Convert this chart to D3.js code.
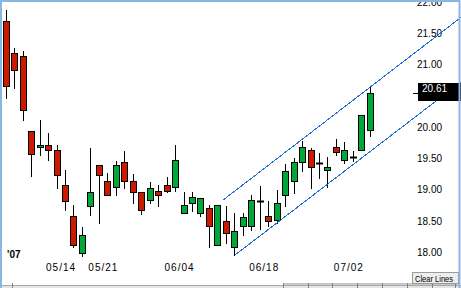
<!DOCTYPE html>
<html>
<head>
<meta charset="utf-8">
<script src="https://cdn.jsdelivr.net/npm/d3@7"></script>
<style>
  body { margin: 0; background: #fff; }
  svg { display: block; }
  text { font-family: "Liberation Sans", Arial, sans-serif; }
</style>
</head>
<body>
<div id="chart"></div>
<script>
// chart data
let dates = ["05/04","05/07","05/08","05/09","05/10","05/11","05/14","05/15","05/16","05/17","05/18",
  "05/21","05/22","05/23","05/24","05/25","05/29","05/30","05/31","06/01","06/04","06/05","06/06",
  "06/07","06/08","06/11","06/12","06/13","06/14","06/15","06/18","06/19","06/20","06/21","06/22",
  "06/25","06/26","06/27","06/28","06/29","07/02","07/03","07/05","07/06"];

let opens = [21.76,21.25,21.20,20.00,19.75,19.79,19.71,19.15,18.64,18.05,18.80,19.47,19.20,19.11,19.51,
  19.20,19.03,18.91,19.04,19.15,19.11,18.70,18.85,18.70,18.77,18.19,18.56,18.15,18.48,18.49,18.88,
  18.64,18.59,18.99,19.20,19.51,19.70,19.50,19.39,19.75,19.55,19.59,19.71,20.02];
let highs = [21.94,21.34,21.29,20.00,20.18,19.97,19.78,19.38,18.83,18.47,19.73,19.47,19.34,19.52,19.69,
  19.32,19.03,19.19,19.14,19.27,19.78,19.03,19.03,18.93,18.83,18.83,18.80,18.69,18.69,18.99,19.12,
  18.89,19.06,19.48,19.58,19.85,19.73,19.65,19.59,19.88,19.83,19.68,20.26,20.72];
let lows = [20.54,20.70,20.19,19.29,19.63,19.55,19.10,18.75,18.15,18.01,18.67,18.54,18.98,18.99,19.10,
  18.85,18.68,18.85,18.80,19.03,19.04,18.69,18.72,18.64,18.15,18.19,18.21,18.02,18.35,18.42,18.44,
  18.49,18.53,18.81,19.02,19.36,19.10,19.26,19.11,19.62,19.49,19.52,19.71,19.92];
let closes = [20.72,20.98,20.35,19.64,19.79,19.70,19.30,18.89,18.19,18.34,19.03,19.31,18.99,19.47,19.20,
  19.03,18.75,19.09,18.98,19.04,19.55,18.83,18.95,18.93,18.48,18.83,18.37,18.40,18.63,18.90,18.88,
  18.56,18.86,19.36,19.51,19.75,19.43,19.50,19.43,19.67,19.70,19.59,20.26,20.61];

let xTicks = ["05/14","05/21","06/04","06/18","07/02"];
// 20.50 sits under the last price box, so it is left out
let yTicks = [18.0,18.5,19.0,19.5,20.0,21.0,21.5,22.0];
let yearLabel = "'07";

// trend channel (bar index, price); both lines run on to the right edge
let upperBars = [25.6, 43];
let upperPrices = [18.90, 20.71];
let lowerBars = [27, 43];
let lowerPrices = [18.02, 19.68];

let svgWidth = 461;
let svgHeight = 288;

let upColor = "#00a83a";
let downColor = "#cc1a00";
let lineColor = "#1f6fd6";

let svg = d3.select("#chart")
  .append("svg")
  .attr("width", svgWidth)
  .attr("height", svgHeight);

svg.append("rect")
  .attr("width", svgWidth)
  .attr("height", svgHeight)
  .attr("fill", "#fff");

// scales
let xScale = d3.scaleBand()
  .domain(dates)
  .range([2, 374.5])
  .padding(0);

let yScale = d3.scaleLinear()
  .domain([18, 22])
  .range([256.4, 6.4]);

let step = xScale.step();
let cx = i => Math.floor(xScale(dates[i]) + step / 2);
let py = p => Math.round(yScale(p));

// y axis labels on the right
let yAxis = d3.axisRight(yScale)
  .tickValues(yTicks)
  .tickSize(0)
  .tickPadding(0)
  .tickFormat(d3.format(".2f"));

let yAxisG = svg.append("g")
  .attr("transform", "translate(417, 0)")
  .call(yAxis);
yAxisG.select(".domain").remove();
yAxisG.selectAll("text")
  .attr("dy", -1)
  .style("font-family", "Liberation Sans, Arial, sans-serif")
  .style("font-size", "10px")
  .attr("fill", "#000");

// date labels
let xAxis = d3.axisBottom(xScale)
  .tickValues(xTicks)
  .tickSize(0)
  .tickPadding(0);

let xAxisG = svg.append("g")
  .attr("transform", "translate(4, 264)")
  .call(xAxis);
xAxisG.select(".domain").remove();
xAxisG.selectAll("text")
  .style("font-family", "Liberation Sans, Arial, sans-serif")
  .style("font-size", "10px")
  .style("letter-spacing", "1px")
  .attr("fill", "#000");

svg.append("text")
  .attr("x", 7)
  .attr("y", 258)
  .style("font-size", "10px")
  .style("font-weight", "bold")
  .text(yearLabel);

// candles
let idx = d3.range(dates.length);

svg.append("g").selectAll("line")
  .data(idx)
  .enter()
  .append("line")
  .attr("x1", i => cx(i) + 0.5)
  .attr("x2", i => cx(i) + 0.5)
  .attr("y1", i => py(highs[i]))
  .attr("y2", i => py(lows[i]) + 1)
  .attr("stroke", "#000")
  .attr("stroke-width", 1);

svg.append("g").selectAll("rect")
  .data(idx.filter(i => opens[i] !== closes[i]))
  .enter()
  .append("rect")
  .attr("x", i => cx(i) - 2.5)
  .attr("y", i => py(Math.max(opens[i], closes[i])) + 0.5)
  .attr("width", 6)
  .attr("height", i => Math.max(1, py(Math.min(opens[i], closes[i])) - py(Math.max(opens[i], closes[i]))))
  .attr("fill", i => closes[i] > opens[i] ? upColor : downColor)
  .attr("stroke", "#000")
  .attr("stroke-width", 1);

// doji
svg.append("g").selectAll("line")
  .data(idx.filter(i => opens[i] === closes[i]))
  .enter()
  .append("line")
  .attr("x1", i => cx(i) - 3)
  .attr("x2", i => cx(i) + 4)
  .attr("y1", i => py(closes[i]) + 0.5)
  .attr("y2", i => py(closes[i]) + 0.5)
  .attr("stroke", "#000")
  .attr("stroke-width", 2);

// channel lines, extended to the right edge
let barX = b => xScale(dates[0]) + step / 2 + b * step;
let endBar = (svgWidth - barX(0)) / step;

function channel(bars, prices) {
  let slope = (prices[1] - prices[0]) / (bars[1] - bars[0]);
  let pEnd = prices[0] + (endBar - bars[0]) * slope;
  svg.append("line")
    .attr("x1", barX(bars[0]))
    .attr("y1", yScale(prices[0]))
    .attr("x2", barX(endBar))
    .attr("y2", yScale(pEnd))
    .attr("stroke", lineColor)
    .attr("stroke-width", 1)
    .attr("shape-rendering", "crispEdges");
}
channel(upperBars, upperPrices);
channel(lowerBars, lowerPrices);

// last price marker
let last = closes[closes.length - 1];
let lastY = Math.round(yScale(last));

svg.append("line")
  .attr("x1", 413)
  .attr("x2", 418)
  .attr("y1", lastY + 0.5)
  .attr("y2", lastY + 0.5)
  .attr("stroke", "#000");

svg.append("rect")
  .attr("x", 418)
  .attr("y", lastY - 10)
  .attr("width", svgWidth - 418)
  .attr("height", 18)
  .attr("fill", "#000");

svg.append("text")
  .attr("x", 422)
  .attr("y", lastY - 1)
  .attr("fill", "#fff")
  .style("font-size", "10px")
  .text(d3.format(".2f")(last));

// bottom strip and button
svg.append("rect")
  .attr("x", 0)
  .attr("y", 285)
  .attr("width", svgWidth)
  .attr("height", 3)
  .attr("fill", "#e4e4e4");
svg.append("line")
  .attr("x1", 0).attr("x2", svgWidth)
  .attr("y1", 285.5).attr("y2", 285.5)
  .attr("stroke", "#a8a8a8");
svg.append("rect")
  .attr("x", 283)
  .attr("y", 283)
  .attr("width", 176)
  .attr("height", 2)
  .attr("fill", "#c8c8c8");
[12, 283, 308, 332, 357, 382, 407, 432, 455].forEach(function (t) {
  svg.append("line")
    .attr("x1", t + 0.5).attr("x2", t + 0.5)
    .attr("y1", 283).attr("y2", 288)
    .attr("stroke", "#808080");
});

svg.append("rect")
  .attr("x", 412.5)
  .attr("y", 272.5)
  .attr("width", 46)
  .attr("height", 11)
  .attr("fill", "#eeeeee")
  .attr("stroke", "#9a9a9a");
svg.append("text")
  .attr("x", 415)
  .attr("y", 282)
  .attr("textLength", 38)
  .attr("lengthAdjust", "spacingAndGlyphs")
  .style("font-size", "9px")
  .text("Clear Lines");

// frame
svg.append("rect")
  .attr("x", 1)
  .attr("y", 1)
  .attr("width", 458.5)
  .attr("height", 300)
  .attr("fill", "none")
  .attr("stroke", "#8ab6e6")
  .attr("stroke-width", 2);
</script>
</body>
</html>
